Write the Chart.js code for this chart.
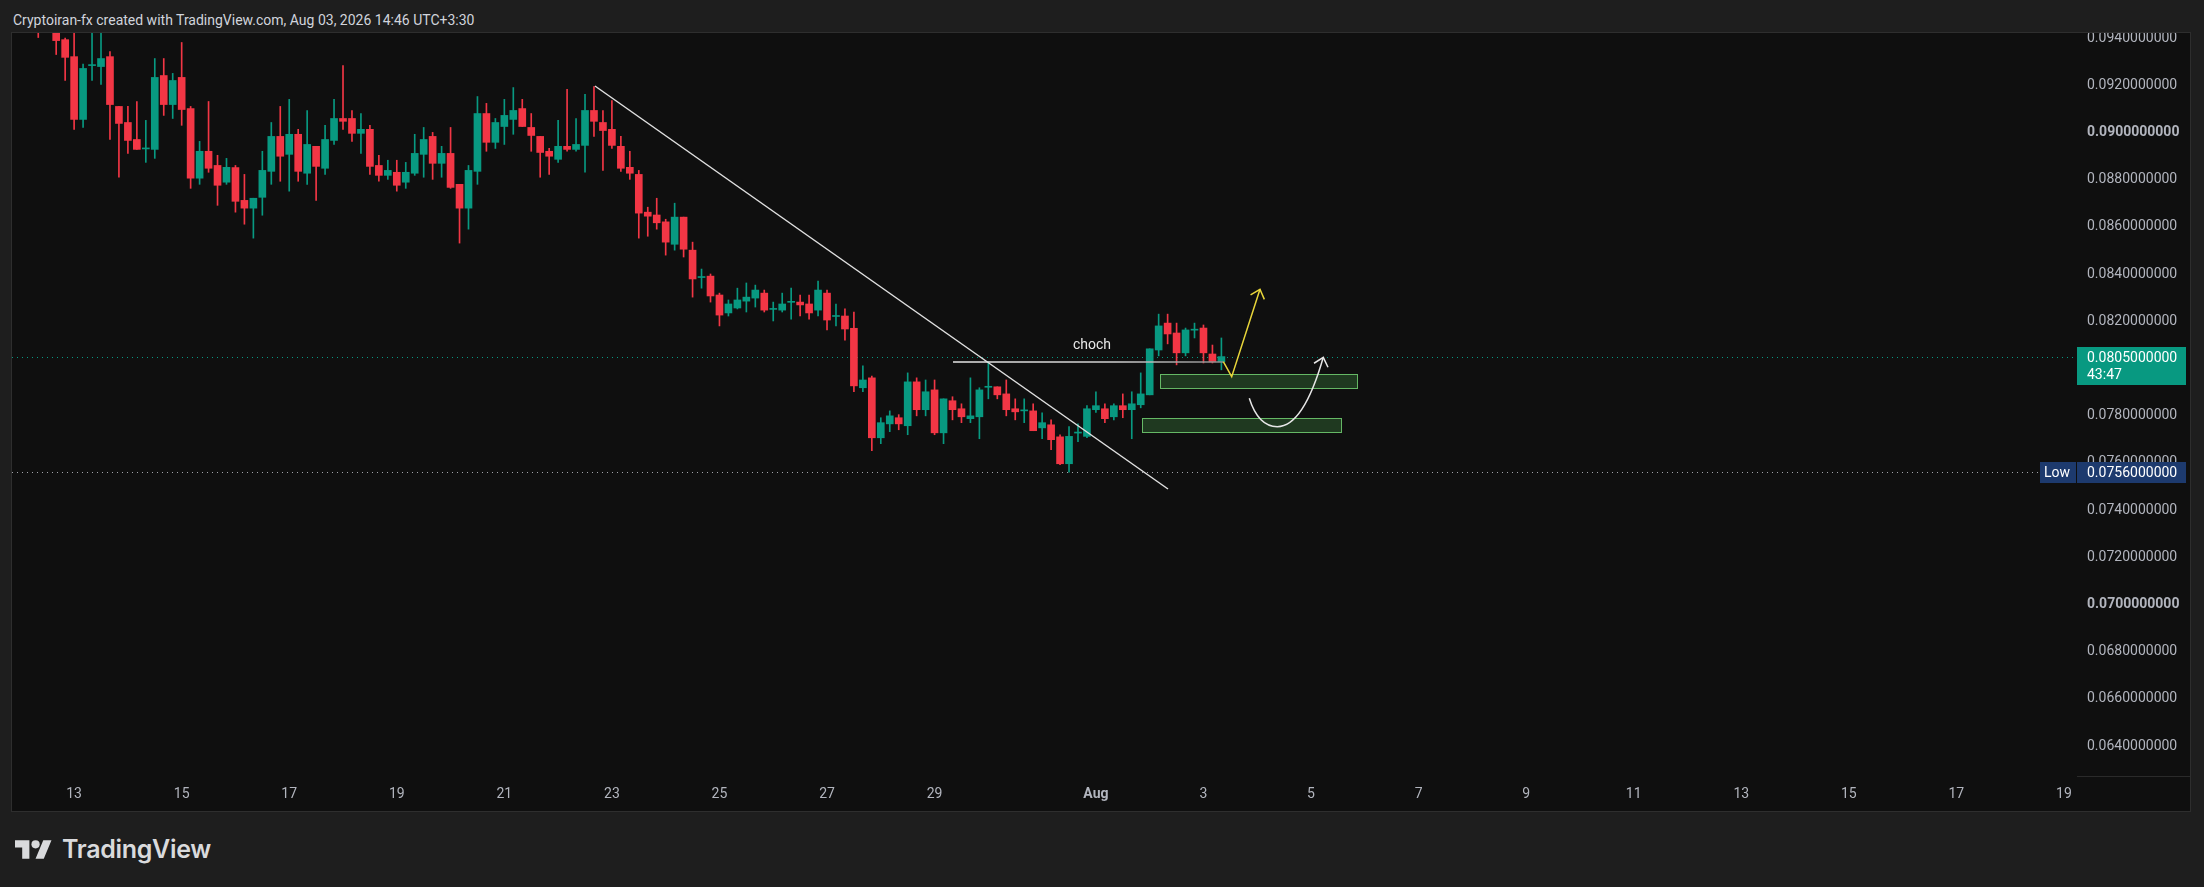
<!DOCTYPE html>
<html>
<head>
<meta charset="utf-8">
<title>4H chart</title>
<script src="https://cdn.jsdelivr.net/npm/chart.js@4.4.1/dist/chart.umd.min.js"></script>
<style>
  html, body { margin: 0; padding: 0; background: #1e1e1e; width: 2204px; height: 887px; overflow: hidden; }
  body { font-family: Roboto, "Noto Sans", sans-serif; }
  #header { position: absolute; left: 13px; top: 12px; font-size: 14px; line-height: 16px; color: #d1d4dc; white-space: nowrap; }
  #panel { position: absolute; left: 12px; top: 33px; width: 2178px; height: 778px; background: #0f0f0f; outline: 1px solid #2e2e2e; }
  #panel canvas { position: absolute; left: 0; top: 0; }
  #footer { position: absolute; left: 15px; top: 836px; height: 30px; color: #d9dadc; }
  #footer svg { position: absolute; left: 0; top: 0; }
  #footer span { position: absolute; left: 47px; top: -2px; font-family: Inter, Roboto, sans-serif; font-weight: 600; font-size: 25px; letter-spacing: -0.3px; white-space: nowrap; }
</style>
</head>
<body>
<div id="header">Cryptoiran-fx created with TradingView.com, Aug 03, 2026 14:46 UTC+3:30</div>
<div id="panel"><canvas id="chart" width="2178" height="778"></canvas></div>
<div id="footer">
  <svg width="37" height="29" viewBox="0 0 36 28" fill="#d9dadc"><path d="M14 22H7V11H0V4h14v18zM28 22h-8l7.5-18h8L28 22z"/><circle cx="20" cy="8" r="4"/></svg>
  <span>TradingView</span>
</div>
<script>
// === Données (bougies 4H) ===
// x = jour de juillet (1er août = 32)
const firstCandleDay = 12 + 8 / 24;
const candleStepDays = 4 / 24;

const opens = [
  0.09460, 0.09440, 0.09430, 0.09393, 0.09321, 0.09055, 0.09283, 0.09279, 0.09321, 0.09110,
  0.09042, 0.08970, 0.08930, 0.08928, 0.09241, 0.09118, 0.09233, 0.09101, 0.08806, 0.08920,
  0.08860, 0.08789, 0.08851, 0.08712, 0.08679, 0.08725, 0.08835, 0.08983, 0.08907, 0.08992,
  0.08827, 0.08941, 0.08848, 0.08966, 0.09059, 0.09059, 0.08996, 0.09013, 0.08860, 0.08818,
  0.08831, 0.08789, 0.08827, 0.08907, 0.08983, 0.08869, 0.08911, 0.08780, 0.08679, 0.08835,
  0.09080, 0.08958, 0.09025, 0.09055, 0.09101, 0.09021, 0.08983, 0.08920, 0.08886, 0.08941,
  0.08928, 0.08945, 0.09093, 0.09042, 0.09013, 0.08941, 0.08852, 0.08822, 0.08662, 0.08650,
  0.08621, 0.08526, 0.08641, 0.08501, 0.08385, 0.08391, 0.08311, 0.08235, 0.08256, 0.08285,
  0.08298, 0.08319, 0.08250, 0.08247, 0.08280, 0.08281, 0.08273, 0.08247, 0.08319, 0.08220,
  0.08222, 0.08170, 0.07918, 0.07960, 0.07706, 0.07765, 0.07791, 0.07757, 0.07943, 0.07825,
  0.07909, 0.07727, 0.07863, 0.07829, 0.07787, 0.07795, 0.07920, 0.07922, 0.07892, 0.07829,
  0.07820, 0.07820, 0.07748, 0.07761, 0.07710, 0.07596, 0.07726, 0.07712, 0.07825, 0.07829,
  0.07795, 0.07842, 0.07825, 0.07846, 0.07888, 0.08078, 0.08192, 0.08150, 0.08066, 0.08162,
  0.08171, 0.08061, 0.08028
];
const highs = [
  0.09490, 0.09480, 0.09450, 0.09400, 0.09440, 0.09290, 0.09440, 0.09440, 0.09342, 0.09110,
  0.09110, 0.09131, 0.09051, 0.09313, 0.09313, 0.09250, 0.09381, 0.09110, 0.08962, 0.09131,
  0.08903, 0.08890, 0.08860, 0.08822, 0.08721, 0.08920, 0.09042, 0.09110, 0.09140, 0.09013,
  0.09093, 0.08941, 0.09030, 0.09140, 0.09283, 0.09093, 0.09080, 0.09030, 0.08903, 0.08882,
  0.08882, 0.08873, 0.08992, 0.09021, 0.09000, 0.08941, 0.09021, 0.08780, 0.08860, 0.09152,
  0.09123, 0.09059, 0.09140, 0.09190, 0.09140, 0.09080, 0.08983, 0.08932, 0.09051, 0.09182,
  0.09059, 0.09161, 0.09194, 0.09093, 0.09135, 0.08983, 0.08920, 0.08839, 0.08683, 0.08721,
  0.08632, 0.08700, 0.08641, 0.08535, 0.08421, 0.08400, 0.08319, 0.08290, 0.08340, 0.08362,
  0.08353, 0.08332, 0.08281, 0.08319, 0.08340, 0.08311, 0.08311, 0.08370, 0.08332, 0.08273,
  0.08252, 0.08239, 0.08011, 0.07968, 0.07791, 0.07820, 0.07804, 0.07981, 0.07960, 0.07951,
  0.07951, 0.07871, 0.07880, 0.07850, 0.07960, 0.07918, 0.08028, 0.07922, 0.07951, 0.07871,
  0.07871, 0.07850, 0.07812, 0.07782, 0.07719, 0.07754, 0.07765, 0.07842, 0.07901, 0.07850,
  0.07850, 0.07892, 0.07901, 0.07981, 0.08083, 0.08230, 0.08230, 0.08192, 0.08171, 0.08192,
  0.08184, 0.08099, 0.08129
];
const lows = [
  0.09402, 0.09426, 0.09330, 0.09220, 0.09013, 0.09021, 0.09220, 0.09203, 0.08970, 0.08810,
  0.08911, 0.08928, 0.08873, 0.08890, 0.09072, 0.09059, 0.09030, 0.08763, 0.08780, 0.08831,
  0.08691, 0.08780, 0.08662, 0.08611, 0.08552, 0.08649, 0.08780, 0.08793, 0.08751, 0.08793,
  0.08780, 0.08712, 0.08822, 0.08949, 0.09013, 0.08962, 0.08911, 0.08822, 0.08793, 0.08801,
  0.08751, 0.08763, 0.08818, 0.08810, 0.08801, 0.08810, 0.08763, 0.08531, 0.08590, 0.08780,
  0.08920, 0.08932, 0.08949, 0.08992, 0.09025, 0.08920, 0.08810, 0.08822, 0.08873, 0.08920,
  0.08920, 0.08831, 0.08983, 0.08839, 0.08932, 0.08835, 0.08801, 0.08552, 0.08560, 0.08590,
  0.08480, 0.08501, 0.08472, 0.08302, 0.08340, 0.08281, 0.08180, 0.08222, 0.08252, 0.08239,
  0.08260, 0.08239, 0.08201, 0.08239, 0.08209, 0.08222, 0.08209, 0.08222, 0.08163, 0.08180,
  0.08120, 0.07901, 0.07901, 0.07651, 0.07681, 0.07732, 0.07740, 0.07719, 0.07799, 0.07799,
  0.07719, 0.07681, 0.07782, 0.07770, 0.07770, 0.07702, 0.07871, 0.07871, 0.07799, 0.07782,
  0.07770, 0.07736, 0.07702, 0.07656, 0.07592, 0.07560, 0.07690, 0.07706, 0.07813, 0.07770,
  0.07782, 0.07791, 0.07702, 0.07833, 0.07888, 0.08053, 0.08104, 0.08015, 0.08053, 0.08129,
  0.08023, 0.08023, 0.07994
];
const closes = [
  0.09430, 0.09460, 0.09389, 0.09318, 0.09055, 0.09271, 0.09285, 0.09313, 0.09118, 0.09038,
  0.08966, 0.08928, 0.08933, 0.09233, 0.09118, 0.09220, 0.09097, 0.08806, 0.08920, 0.08848,
  0.08776, 0.08852, 0.08708, 0.08679, 0.08721, 0.08839, 0.08983, 0.08899, 0.08992, 0.08835,
  0.08949, 0.08856, 0.08970, 0.09059, 0.09047, 0.08996, 0.09013, 0.08856, 0.08818, 0.08839,
  0.08776, 0.08831, 0.08911, 0.08970, 0.08869, 0.08911, 0.08767, 0.08679, 0.08839, 0.09080,
  0.08958, 0.09042, 0.09072, 0.09093, 0.09025, 0.08987, 0.08915, 0.08899, 0.08941, 0.08928,
  0.08949, 0.09093, 0.09047, 0.09008, 0.08945, 0.08848, 0.08827, 0.08658, 0.08645, 0.08617,
  0.08535, 0.08641, 0.08505, 0.08379, 0.08389, 0.08307, 0.08226, 0.08273, 0.08290, 0.08302,
  0.08332, 0.08247, 0.08253, 0.08273, 0.08281, 0.08269, 0.08235, 0.08332, 0.08205, 0.08222,
  0.08167, 0.07926, 0.07951, 0.07706, 0.07770, 0.07799, 0.07765, 0.07943, 0.07825, 0.07901,
  0.07727, 0.07871, 0.07825, 0.07795, 0.07799, 0.07909, 0.07922, 0.07888, 0.07825, 0.07816,
  0.07821, 0.07736, 0.07770, 0.07698, 0.07596, 0.07712, 0.07728, 0.07829, 0.07842, 0.07787,
  0.07842, 0.07825, 0.07850, 0.07892, 0.08083, 0.08180, 0.08146, 0.08066, 0.08163, 0.08163,
  0.08066, 0.08028, 0.08050
];

// axe du temps
const tickDays = [13, 15, 17, 19, 21, 23, 25, 27, 29, 32, 34, 36, 38, 40, 42, 44, 46, 48, 50];
const tickLabels = ['13', '15', '17', '19', '21', '23', '25', '27', '29', 'Aug', '3', '5', '7', '9', '11', '13', '15', '17', '19'];
// axe des prix
const priceTicks = [0.064, 0.066, 0.068, 0.070, 0.072, 0.074, 0.076, 0.078, 0.080, 0.082, 0.084, 0.086, 0.088, 0.090, 0.092, 0.094];
const boldPriceTicks = [0.070, 0.090];

const lastPrice = 0.0805;
const lastCountdown = '43:47';
const lowPrice = 0.0756;

// === Dessins (jour, prix) ===
const trendLine = [[22.685, 0.091966], [33.340, 0.074890]];
const chochLine = [[29.343, 0.08027], [34.364, 0.08027]];
const chochText = [31.927, 0.08099];
const zones = [
  [[33.192, 0.07975], [36.855, 0.079157]],
  [[32.857, 0.077886], [36.557, 0.077275]]
];
const yellowPath = [[34.369, 0.080284], [34.525, 0.079648], [35.051, 0.083352]];
// départ, contrôle, bas, contrôle, arrivée
const whiteCurve = [[34.852, 0.078733], [35.020, 0.07753], [35.373, 0.07753], [35.857, 0.07753], [36.228, 0.08047]];

const upColor = '#089981';
const downColor = '#f23645';
const axisColor = '#b2b5be';
const chartFont = 'Roboto, "Noto Sans", sans-serif';

const candleDays = opens.map((o, i) => firstCandleDay + i * candleStepDays);
const bodyData = candleDays.map((d, i) => ({ x: d, y: [opens[i], closes[i]] }));
const wickData = candleDays.map((d, i) => ({ x: d, y: [lows[i], highs[i]] }));
const candleColor = i => closes[i] >= opens[i] ? upColor : downColor;

function arrowHead(ctx, fromX, fromY, tipX, tipY) {
  const ang = Math.atan2(fromY - tipY, fromX - tipX);
  const len = 11, spread = 0.72;
  ctx.beginPath();
  ctx.moveTo(tipX + Math.cos(ang - spread) * len, tipY + Math.sin(ang - spread) * len);
  ctx.lineTo(tipX, tipY);
  ctx.lineTo(tipX + Math.cos(ang + spread) * len, tipY + Math.sin(ang + spread) * len);
  ctx.stroke();
}

const overlay = {
  id: 'overlay',
  beforeDatasetsDraw(chart) {
    const { ctx, chartArea: a, scales: { y } } = chart;
    ctx.save();
    ctx.lineWidth = 1;
    ctx.setLineDash([1, 4]);
    let yy = Math.round(y.getPixelForValue(lastPrice)) + 0.5;
    ctx.strokeStyle = upColor;
    ctx.beginPath(); ctx.moveTo(a.left, yy); ctx.lineTo(a.right, yy); ctx.stroke();
    yy = Math.round(y.getPixelForValue(lowPrice)) + 0.5;
    ctx.strokeStyle = 'rgba(200,202,210,0.8)';
    ctx.beginPath(); ctx.moveTo(a.left, yy); ctx.lineTo(a.right - 37, yy); ctx.stroke();
    ctx.restore();
  },
  afterDatasetsDraw(chart) {
    const { ctx, chartArea: a, scales: { x, y } } = chart;
    const P = pt => [x.getPixelForValue(pt[0]), y.getPixelForValue(pt[1])];
    ctx.save();
    ctx.beginPath(); ctx.rect(a.left, a.top, a.right - a.left, a.bottom - a.top); ctx.clip();

    // zones
    zones.forEach(z => {
      const p1 = P(z[0]), p2 = P(z[1]);
      ctx.fillStyle = 'rgba(76,175,80,0.27)';
      ctx.fillRect(p1[0], p1[1], p2[0] - p1[0], p2[1] - p1[1]);
      ctx.strokeStyle = 'rgba(110,200,110,0.9)';
      ctx.lineWidth = 1;
      ctx.strokeRect(Math.round(p1[0]) + 0.5, Math.round(p1[1]) + 0.5, Math.round(p2[0] - p1[0]), Math.round(p2[1] - p1[1]));
    });

    // ligne de tendance
    let t1 = P(trendLine[0]), t2 = P(trendLine[1]);
    ctx.strokeStyle = '#e0e0e0';
    ctx.lineWidth = 1.5;
    ctx.beginPath(); ctx.moveTo(t1[0], t1[1]); ctx.lineTo(t2[0], t2[1]); ctx.stroke();

    // choch
    const c1 = P(chochLine[0]), c2 = P(chochLine[1]);
    const grad = ctx.createLinearGradient(c1[0], 0, c2[0], 0);
    grad.addColorStop(0, '#e6e6e6');
    grad.addColorStop(0.6, '#d0d0d0');
    grad.addColorStop(1, '#8a8a8a');
    ctx.strokeStyle = grad;
    ctx.lineWidth = 1.5;
    ctx.beginPath(); ctx.moveTo(c1[0], c1[1]); ctx.lineTo(c2[0], c2[1]); ctx.stroke();
    const ct = P(chochText);
    ctx.fillStyle = '#e8e8e8';
    ctx.font = '14px ' + chartFont;
    ctx.textAlign = 'center';
    ctx.textBaseline = 'middle';
    ctx.fillText('choch', ct[0], ct[1]);

    // flèche jaune
    const yp = yellowPath.map(P);
    ctx.strokeStyle = '#e8d53a';
    ctx.lineWidth = 1.5;
    ctx.beginPath();
    yp.forEach((p, i) => i ? ctx.lineTo(p[0], p[1]) : ctx.moveTo(p[0], p[1]));
    ctx.stroke();
    arrowHead(ctx, yp[1][0], yp[1][1], yp[2][0], yp[2][1]);

    // flèche courbe blanche
    const wc = whiteCurve.map(P);
    ctx.strokeStyle = '#e6e6e6';
    ctx.beginPath();
    ctx.moveTo(wc[0][0], wc[0][1]);
    ctx.quadraticCurveTo(wc[1][0], wc[1][1], wc[2][0], wc[2][1]);
    ctx.quadraticCurveTo(wc[3][0], wc[3][1], wc[4][0], wc[4][1]);
    ctx.stroke();
    arrowHead(ctx, wc[3][0], wc[3][1], wc[4][0], wc[4][1]);
    ctx.restore();
  },
  afterDraw(chart) {
    const { ctx, chartArea: a, scales: { y } } = chart;
    const W = chart.width;
    ctx.save();
    // coin entre les axes
    ctx.strokeStyle = '#2a2a2a';
    ctx.lineWidth = 1;
    ctx.beginPath(); ctx.moveTo(a.right, a.bottom + 0.5); ctx.lineTo(W, a.bottom + 0.5); ctx.stroke();

    ctx.font = '14px ' + chartFont;
    ctx.textBaseline = 'middle';
    ctx.textAlign = 'left';
    // prix actuel
    const yl = Math.round(y.getPixelForValue(lastPrice));
    ctx.fillStyle = upColor;
    ctx.fillRect(a.right, yl - 10, 109, 38);
    ctx.fillStyle = '#ffffff';
    ctx.fillText(lastPrice.toFixed(10), a.right + 10, yl + 1);
    ctx.fillText(lastCountdown, a.right + 10, yl + 18);
    // plus bas
    const yw = Math.round(y.getPixelForValue(lowPrice));
    ctx.fillStyle = '#1d3a6e';
    ctx.fillRect(a.right - 37, yw - 10, 36, 21);
    ctx.fillRect(a.right, yw - 10, 109, 21);
    ctx.fillStyle = '#ffffff';
    ctx.fillText('Low', a.right - 33, yw + 1);
    ctx.fillText(lowPrice.toFixed(10), a.right + 10, yw + 1);
    ctx.restore();
  }
};

const isBoldPrice = v => boldPriceTicks.some(b => Math.abs(b - v) < 1e-9);

const ctx = document.getElementById('chart').getContext('2d');
new Chart(ctx, {
  type: 'bar',
  data: {
    datasets: [
      {
        label: 'corps',
        data: bodyData,
        backgroundColor: c => candleColor(c.dataIndex),
        barThickness: 7,
        minBarLength: 1,
        grouped: false,
        borderWidth: 0
      },
      {
        label: 'mèches',
        data: wickData,
        backgroundColor: c => candleColor(c.dataIndex),
        barThickness: 1,
        grouped: false,
        borderWidth: 0
      }
    ]
  },
  options: {
    responsive: false,
    animation: false,
    layout: { padding: 0 },
    plugins: { legend: { display: false }, tooltip: { enabled: false } },
    scales: {
      x: {
        type: 'linear',
        min: 11.845,
        max: 50.243,
        offset: false,
        grid: { display: false, drawTicks: false },
        border: { display: false },
        afterBuildTicks: s => { s.ticks = tickDays.map(v => ({ value: v })); },
        afterFit: s => { s.height = 35; s.paddingLeft = 0; s.paddingRight = 0; },
        ticks: {
          autoSkip: false,
          maxRotation: 0,
          padding: 10,
          color: axisColor,
          font: c => ({ family: chartFont, size: 14, weight: (c.tick && tickLabels[c.index] === 'Aug') ? 'bold' : 'normal' }),
          callback: (v, i) => tickLabels[i]
        }
      },
      y: {
        position: 'right',
        min: 0.062729,
        max: 0.094212,
        grid: { display: false, drawTicks: false },
        border: { display: false },
        afterBuildTicks: s => { s.ticks = priceTicks.map(v => ({ value: v })); },
        afterFit: s => { s.width = 113; s.paddingTop = 0; s.paddingBottom = 0; },
        ticks: {
          autoSkip: false,
          padding: 10,
          color: axisColor,
          font: c => ({ family: chartFont, size: 14, weight: (c.tick && isBoldPrice(c.tick.value)) ? 'bold' : 'normal' }),
          callback: v => v.toFixed(10)
        }
      }
    }
  },
  plugins: [overlay]
});
</script>
</body>
</html>
